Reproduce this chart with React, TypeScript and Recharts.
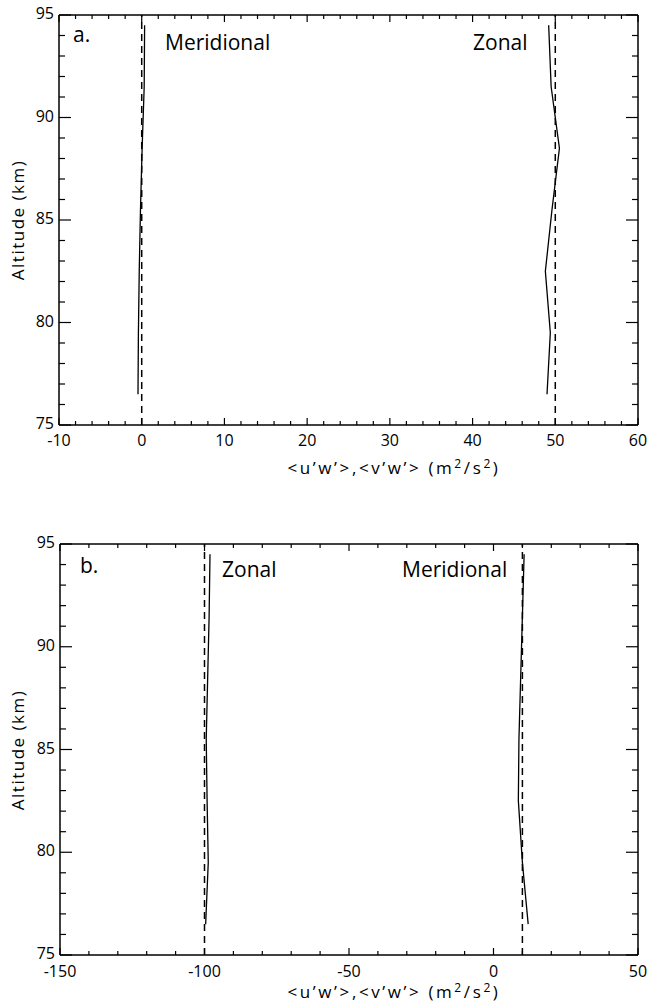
import React from 'react';
import { LineChart, Line, XAxis, YAxis, ReferenceLine } from 'recharts';

// altitude levels (km) shared by both panels
const altitudes = [76.5, 79.5, 82.5, 85.5, 88.5, 91.5, 94.5];

// panel a
const meridionalA = [-0.45, -0.4, -0.3, -0.15, 0.05, 0.3, 0.35];
const zonalA = [49.0, 49.4, 48.8, 49.6, 50.5, 49.5, 49.2];
const refLinesA = [0, 50];
const xMajorA = [-10, 0, 10, 20, 30, 40, 50, 60];

// panel b
const zonalB = [-99.6, -98.7, -99.1, -99.4, -98.9, -98.4, -98.1];
const meridionalB = [12, 10, 8.6, 8.8, 9.4, 10, 10.6];
const refLinesB = [-100, 10];
const xMajorB = [-150, -100, -50, 0, 50];

const yMajor = [75, 80, 85, 90, 95];

const FONT = '"Open Sans", sans-serif';

const dataA = altitudes.map((alt, i) => ({ alt, mer: meridionalA[i], zon: zonalA[i] }));
const dataB = altitudes.map((alt, i) => ({ alt, mer: meridionalB[i], zon: zonalB[i] }));

// major ticks plus the minor ones between them
const withMinor = (majors: number[], step: number) => {
  const out: number[] = [];
  const lo = majors[0];
  const hi = majors[majors.length - 1];
  for (let v = lo; v <= hi + 1e-9; v += step) out.push(Math.round(v * 100) / 100);
  return out;
};

const makeTick = (side: 'bottom' | 'top' | 'left' | 'right', majors: number[], bigLen: number, smallLen: number, labelGap = 20) =>
  (props: any) => {
    const { x, y, payload } = props;
    const major = majors.includes(payload.value);
    const len = major ? bigLen : smallLen;
    let line;
    if (side === 'bottom') line = <line x1={x} x2={x} y1={y} y2={y - len} />;
    else if (side === 'top') line = <line x1={x} x2={x} y1={y} y2={y + len} />;
    else if (side === 'left') line = <line x1={x} x2={x + len} y1={y} y2={y} />;
    else line = <line x1={x} x2={x - len} y1={y} y2={y} />;
    return (
      <g>
        <g stroke="#000" strokeWidth={1.2}>{line}</g>
        {major && side === 'bottom' && (
          <text x={x} y={y + labelGap} textAnchor="middle" fontSize={16} fontFamily={FONT} fill="#000">
            {payload.value}
          </text>
        )}
        {major && side === 'left' && (
          <text x={x - 5} y={y + 4} textAnchor="end" fontSize={16} fontFamily={FONT} fill="#000">
            {payload.value}
          </text>
        )}
      </g>
    );
  };

function Panel({ data, xMajor, xStep, refs, top, height, margin, labelGap }: any) {
  const xTicks = withMinor(xMajor, xStep);
  const yTicks = withMinor(yMajor, 1);
  const xDomain = [xMajor[0], xMajor[xMajor.length - 1]];
  const axisStyle = { stroke: '#000', strokeWidth: 1.5 };
  return (
    <div style={{ position: 'absolute', left: 0, top, width: 649, height }}>
      <LineChart width={649} height={height} data={data} layout="vertical" margin={margin}>
        <XAxis xAxisId="b" type="number" domain={xDomain} ticks={xTicks} interval={0} height={1}
          orientation="bottom" tickSize={0} tickMargin={0} axisLine={axisStyle} tickLine={false}
          tick={makeTick('bottom', xMajor, 7, 4, labelGap)} allowDataOverflow />
        <XAxis xAxisId="t" type="number" domain={xDomain} ticks={xTicks} interval={0} height={1}
          orientation="top" tickSize={0} tickMargin={0} axisLine={axisStyle} tickLine={false}
          tick={makeTick('top', xMajor, 7, 4)} allowDataOverflow />
        <YAxis yAxisId="l" type="number" dataKey="alt" domain={[75, 95]} ticks={yTicks} interval={0} width={1}
          orientation="left" reversed tickSize={0} tickMargin={0} axisLine={axisStyle} tickLine={false}
          tick={makeTick('left', yMajor, 12, 6)} allowDataOverflow />
        <YAxis yAxisId="r" type="number" dataKey="alt" domain={[75, 95]} ticks={yTicks} interval={0} width={1}
          orientation="right" reversed tickSize={0} tickMargin={0} axisLine={axisStyle} tickLine={false}
          tick={makeTick('right', yMajor, 12, 6)} allowDataOverflow />
        {refs.map((r: number) => (
          <ReferenceLine key={r} x={r} xAxisId="b" yAxisId="l" stroke="#000" strokeWidth={1.5} strokeDasharray="7 5" />
        ))}
        <Line xAxisId="b" yAxisId="l" dataKey="mer" stroke="#000" strokeWidth={1.3} dot={false} isAnimationActive={false} />
        <Line xAxisId="b" yAxisId="l" dataKey="zon" stroke="#000" strokeWidth={1.3} dot={false} isAnimationActive={false} />
      </LineChart>
    </div>
  );
}

const XTitle = ({ x, y }: { x: number; y: number }) => (
  <text x={x} y={y} textAnchor="middle" fontSize={17} letterSpacing={2.6} fontFamily={FONT} fill="#000">
    {'<u’w’>,<v’w’> (m'}
    <tspan dy={-6} fontSize={12}>2</tspan>
    <tspan dy={6}>/s</tspan>
    <tspan dy={-6} fontSize={12}>2</tspan>
    <tspan dy={6}>)</tspan>
  </text>
);

const YTitle = ({ x, y }: { x: number; y: number }) => (
  <text x={x} y={y} transform={`rotate(-90 ${x} ${y})`} textAnchor="middle" fontSize={17} letterSpacing={1.5}
    fontFamily={FONT} fill="#000">
    Altitude (km)
  </text>
);

export default function App() {
  return (
    <div style={{ position: 'absolute', left: 0, top: 0, width: 649, height: 1004, background: '#fff' }}>
      <Panel data={dataA} xMajor={xMajorA} xStep={2} refs={refLinesA} top={0} height={480}
        margin={{ top: 14, right: 10, bottom: 54, left: 58 }} labelGap={21} />
      <Panel data={dataB} xMajor={xMajorB} xStep={10} refs={refLinesB} top={500} height={504}
        margin={{ top: 43, right: 10, bottom: 48, left: 59 }} labelGap={22} />
      <svg width={649} height={1004} style={{ position: 'absolute', left: 0, top: 0, pointerEvents: 'none' }}>
        <g fontFamily={FONT} fontSize={21} fill="#000">
          <text x={73} y={42}>a.</text>
          <text x={165} y={50}>Meridional</text>
          <text x={473} y={50}>Zonal</text>
          <text x={80} y={573}>b.</text>
          <text x={222} y={577}>Zonal</text>
          <text x={402} y={577}>Meridional</text>
        </g>
        <XTitle x={394} y={474} />
        <XTitle x={394} y={998} />
        <YTitle x={24} y={220} />
        <YTitle x={24} y={750} />
      </svg>
    </div>
  );
}
